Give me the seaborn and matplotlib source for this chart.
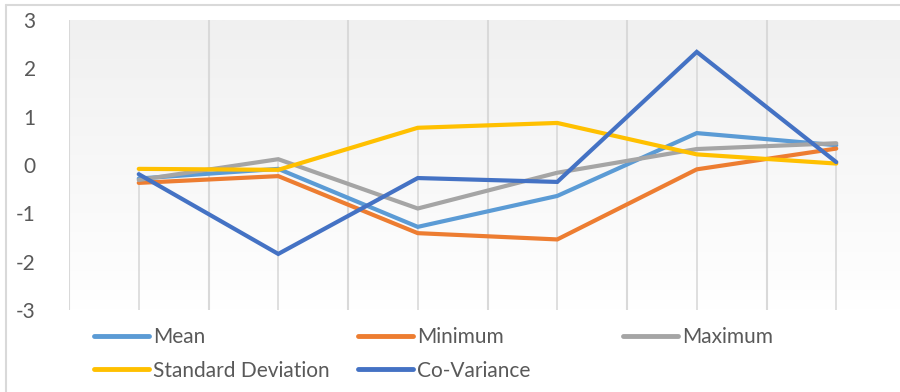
import matplotlib.pyplot as plt
import numpy as np
import pandas as pd
import seaborn as sns
from matplotlib.colors import LinearSegmentedColormap
from matplotlib.lines import Line2D

# values (6 unlabeled categories)
positions = [0, 1, 2, 3, 4, 5]
mean_vals = [-0.28, -0.08, -1.28, -0.64, 0.66, 0.41]
min_vals = [-0.37, -0.23, -1.41, -1.54, -0.09, 0.34]
max_vals = [-0.31, 0.12, -0.90, -0.16, 0.33, 0.45]
sd_vals = [-0.08, -0.10, 0.77, 0.87, 0.22, 0.03]
cov_vals = [-0.19, -1.84, -0.27, -0.35, 2.34, 0.06]

series_names = ["Mean", "Minimum", "Maximum", "Standard Deviation", "Co-Variance"]
colors = ["#5B9BD5", "#ED7D31", "#A5A5A5", "#FFC000", "#4472C4"]

sns.set_style("white")
plt.rcParams["font.family"] = ["Lato", "DejaVu Sans"]

df = pd.DataFrame({
    "x": positions * 5,
    "value": mean_vals + min_vals + max_vals + sd_vals + cov_vals,
    "series": sum([[n] * 6 for n in series_names], []),
})

fig = plt.figure(figsize=(9, 3.92), dpi=100)
ax = fig.add_axes([69 / 900, 1 - 310 / 392, 837 / 900, 290 / 392])

# soft vertical gradient background, white at top to light gray at bottom
grad = np.linspace(0, 1, 256).reshape(-1, 1)
cmap = LinearSegmentedColormap.from_list("bg", ["#ffffff", "#f0f0f0"])
ax.imshow(grad, extent=[-0.5, 5.5, 3, -3], aspect="auto", cmap=cmap, zorder=0)

# vertical gridlines between categories
for gx in np.arange(-0.5, 6, 1):
    ax.axvline(gx, color="#d9d9d9", lw=1.5, zorder=1)

# drop lines from the highest series down to the bottom
tops = np.max([mean_vals, min_vals, max_vals, sd_vals, cov_vals], axis=0)
ax.vlines(positions, -3, tops, color="#d9d9d9", lw=1.2, zorder=1)

sns.lineplot(data=df, x="x", y="value", hue="series", hue_order=series_names,
             palette=colors, linewidth=3.0, ax=ax, legend=False, zorder=3,
             solid_joinstyle="miter")

ax.set_xlim(-0.5, 5.5)
ax.set_ylim(-3, 3)
ax.set_yticks([-3, -2, -1, 0, 1, 2, 3])
ax.set_yticklabels(["-3", "-2", "-1", "0", "1", "2", "3"])
ax.set_xticks([])
ax.set_xlabel("")
ax.set_ylabel("")
ax.tick_params(axis="y", length=0, pad=24, labelsize=15, labelcolor="#595959")
for s in ax.spines.values():
    s.set_visible(False)

# legend in three equally spaced columns like the original
handles = {n: Line2D([], [], color=c, lw=3.5, solid_capstyle="round")
           for n, c in zip(series_names, colors)}
columns = [(["Mean", "Standard Deviation"], 94), (["Minimum", "Co-Variance"], 358),
           (["Maximum"], 623)]
for names, px in columns:
    fig.legend([handles[n] for n in names], names, loc="upper left",
               bbox_to_anchor=(px / 900, 1 - 327 / 392), frameon=False,
               fontsize=15, handlelength=2.65, handletextpad=0.2,
               labelspacing=0.65, borderpad=0, borderaxespad=0,
               labelcolor="#595959")

# outer chart frame (top and left edges visible)
fig.add_artist(Line2D([6 / 900, 1], [1 - 5 / 392, 1 - 5 / 392], color="#d9d9d9", lw=1.5))
fig.add_artist(Line2D([6 / 900, 6 / 900], [0, 1 - 5 / 392], color="#d9d9d9", lw=1.5))

fig.savefig("out.png", dpi=100)
